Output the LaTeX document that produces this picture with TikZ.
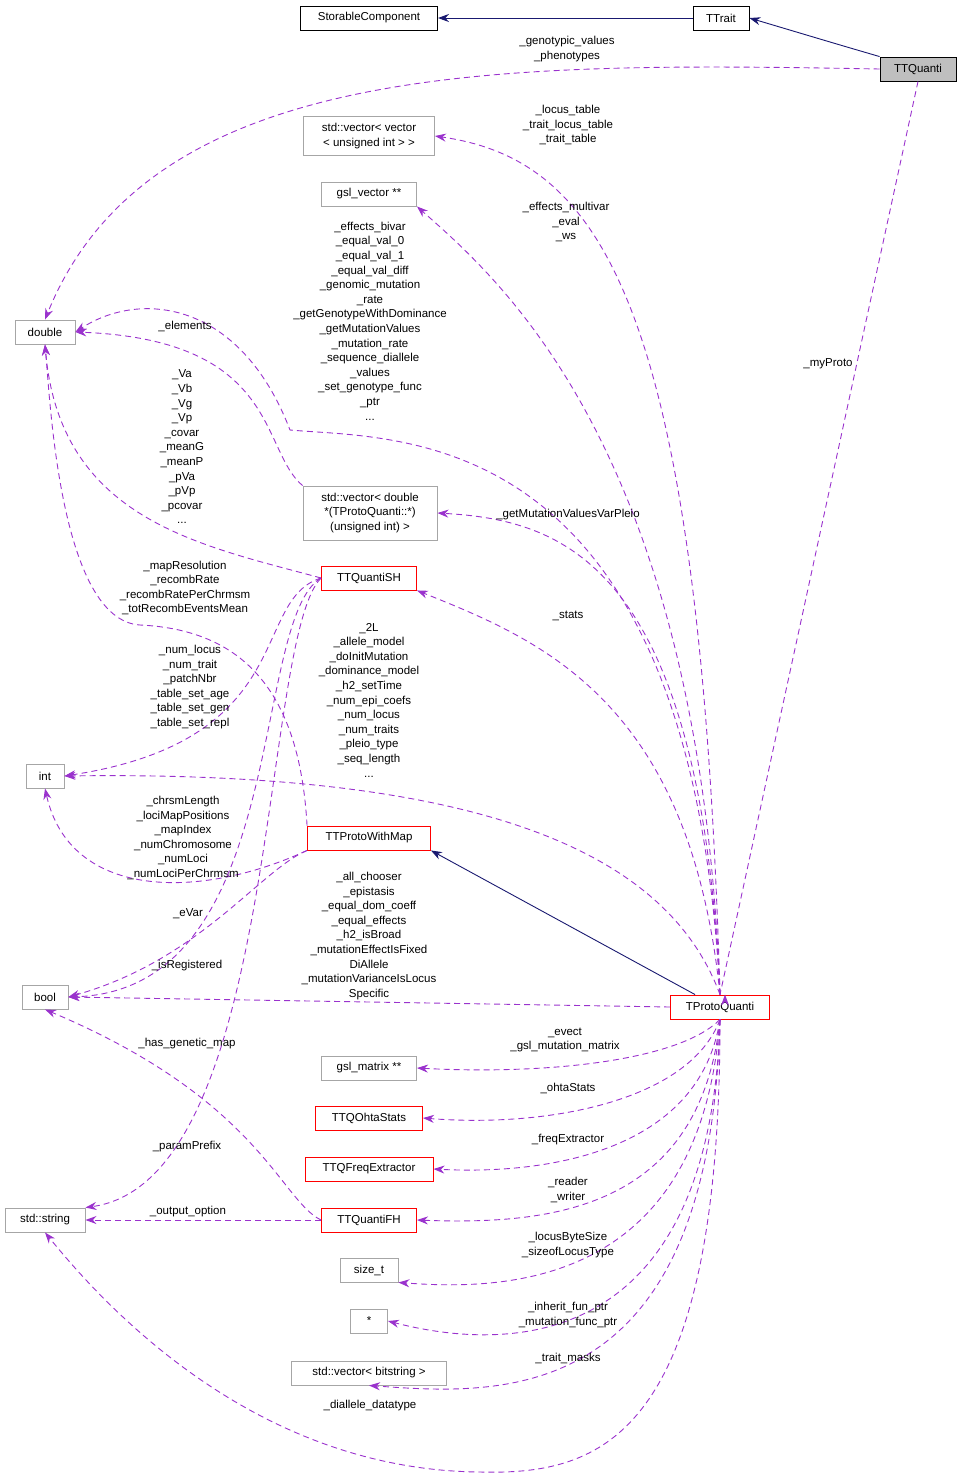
\documentclass[tikz,border=0pt]{standalone}
\usepackage{fontspec}
\setmainfont{Liberation Sans}
\usetikzlibrary{arrows.meta}
\definecolor{dep}{HTML}{9A32CD}
\definecolor{inh}{HTML}{191970}
\begin{document}
\begin{tikzpicture}[x=1pt,y=-1pt,line width=0.9pt,
 every node/.style={font=\fontsize{11.5}{14.6}\selectfont},
 box/.style={draw=black,fill=white,inner sep=0pt,minimum height=24pt,align=center,line width=0.9pt},
 gbox/.style={box,draw=gray!70},
 rbox/.style={box,draw=red},
 lab/.style={align=center,inner sep=0pt,font=\fontsize{11.5}{14.6}\selectfont},
 use/.style={dep,dash pattern=on 6pt off 4pt,-{Stealth[length=11pt,width=8pt]}},
 isa/.style={inh,-{Stealth[length=11pt,width=8pt,open,fill=inh]}}]
\useasboundingbox (0,0) rectangle (961,1478);
\node[box,minimum width=137pt] (sc) at (369,18) {StorableComponent};
\node[box,minimum width=56pt] (tt) at (721,18) {TTrait};
\node[box,minimum width=76pt,fill=gray!50] (tq) at (918,69) {TTQuanti};
\node[gbox,minimum width=131pt,minimum height=39pt] (vv) at (369,136) {std::vector\textless{} vector\\\textless{} unsigned int \textgreater{} \textgreater};
\node[gbox,minimum width=95pt] (gv) at (369,194) {gsl\_vector **};
\node[gbox,minimum width=60pt] (dbl) at (45,332) {double};
\node[gbox,minimum width=134pt,minimum height=54pt] (vd) at (370,513) {std::vector\textless{} double\\*(TProtoQuanti::*)\\(unsigned int) \textgreater};
\node[rbox,minimum width=95pt] (sh) at (369,578) {TTQuantiSH};
\node[gbox,minimum width=38pt] (int) at (45,776) {int};
\node[rbox,minimum width=123pt] (pm) at (369,838) {TTProtoWithMap};
\node[gbox,minimum width=46pt] (bool) at (45,997) {bool};
\node[rbox,minimum width=99pt] (pq) at (720,1007) {TProtoQuanti};
\node[gbox,minimum width=95pt] (gm) at (369,1068) {gsl\_matrix **};
\node[rbox,minimum width=107pt] (oh) at (369,1118) {TTQOhtaStats};
\node[rbox,minimum width=128pt] (fe) at (369,1169) {TTQFreqExtractor};
\node[gbox,minimum width=80pt] (str) at (45,1220) {std::string};
\node[rbox,minimum width=95pt] (fh) at (369,1220) {TTQuantiFH};
\node[gbox,minimum width=58pt] (st) at (369,1270) {size\_t};
\node[gbox,minimum width=37pt] (ptr) at (369,1321) {*};
\node[gbox,minimum width=155pt] (vb) at (369,1373) {std::vector\textless{} bitstring \textgreater};

\draw[isa] (tt) -- (sc);
\draw[isa] (tq.north west) .. controls (840,45) .. (tt.east);
\draw[isa] (pq.north west)++(25,0) -- (pm.south east);

\draw[use] (tq.west) .. controls (500,62) and (150,60) .. (dbl.north);
\node[lab] at (567,49) {\_genotypic\_values\\\_phenotypes};
\draw[use] (tq.south) -- (pq.north)++(5,0);
\node[lab] at (828,364) {\_myProto};
\draw[use] (pq.north) .. controls (700,300) and (600,160) .. (vv.east);
\node[lab] at (568,125) {\_locus\_table\\\_trait\_locus\_table\\\_trait\_table};
\draw[use] (pq.north) .. controls (700,450) and (500,280) .. (gv.south east);
\node[lab] at (566,222) {\_effects\_multivar\\\_eval\\\_ws};
\draw[use] (pq.north) .. controls (690,420) and (400,440) .. (290,430) .. controls (240,300) and (140,290) .. (dbl.east);
\node[lab] at (370,321) {\_effects\_bivar\\\_equal\_val\_0\\\_equal\_val\_1\\\_equal\_val\_diff\\\_genomic\_mutation\\\_rate\\\_getGenotypeWithDominance\\\_getMutationValues\\\_mutation\_rate\\\_sequence\_diallele\\\_values\\\_set\_genotype\_func\\\_ptr\\...};
\draw[use] (vd.north west) .. controls (260,450) and (280,340) .. (dbl.east);
\node[lab] at (185,326) {\_elements};
\draw[use] (pq.north) .. controls (700,560) and (560,520) .. (vd.east);
\node[lab] at (568,515) {\_getMutationValuesVarPleio};
\draw[use] (sh.west) .. controls (200,545) and (60,520) .. (dbl.south);
\node[lab] at (182,447) {\_Va\\\_Vb\\\_Vg\\\_Vp\\\_covar\\\_meanG\\\_meanP\\\_pVa\\\_pVp\\\_pcovar\\...};
\draw[use] (pq.north) .. controls (690,700) and (540,640) .. (sh.south east);
\node[lab] at (568,616) {\_stats};
\draw[use] (pm.north west) .. controls (300,700) and (250,630) .. (140,625) .. controls (60,620) and (50,400) .. (dbl.south);
\node[lab] at (185,588) {\_mapResolution\\\_recombRate\\\_recombRatePerChrmsm\\\_totRecombEventsMean};
\draw[use] (sh.west) .. controls (250,600) and (300,740) .. (int.east);
\node[lab] at (190,687) {\_num\_locus\\\_num\_trait\\\_patchNbr\\\_table\_set\_age\\\_table\_set\_gen\\\_table\_set\_repl};
\draw[use] (pq.north) .. controls (670,860) and (500,770) .. (int.east);
\node[lab] at (369,700) {\_2L\\\_allele\_model\\\_doInitMutation\\\_dominance\_model\\\_h2\_setTime\\\_num\_epi\_coefs\\\_num\_locus\\\_num\_traits\\\_pleio\_type\\\_seq\_length\\...};
\draw[use] (pm.south west) .. controls (200,900) and (70,900) .. (int.south);
\node[lab] at (183,838) {\_chrsmLength\\\_lociMapPositions\\\_mapIndex\\\_numChromosome\\\_numLoci\\\_numLociPerChrmsm};
\draw[use] (pm.south west) .. controls (260,870) and (200,960) .. (bool.east);
\node[lab] at (188,914) {\_eVar};
\draw[use] (sh.west) .. controls (250,620) and (290,990) .. (bool.east);
\node[lab] at (187,966) {\_isRegistered};
\draw[use] (pq.west) -- (bool.east);
\node[lab] at (369,936) {\_all\_chooser\\\_epistasis\\\_equal\_dom\_coeff\\\_equal\_effects\\\_h2\_isBroad\\\_mutationEffectIsFixed\\DiAllele\\\_mutationVarianceIsLocus\\Specific};
\draw[use] (fh.west) .. controls (280,1200) and (260,1100) .. (bool.south);
\node[lab] at (187,1044) {\_has\_genetic\_map};
\draw[use] (sh.west) .. controls (260,640) and (280,1180) .. (str.north east);
\node[lab] at (187,1147) {\_paramPrefix};
\draw[use] (fh.west) -- (str.east);
\node[lab] at (188,1212) {\_output\_option};
\draw[use] (pq.south) .. controls (680,1060) and (550,1075) .. (gm.east);
\node[lab] at (565,1040) {\_evect\\\_gsl\_mutation\_matrix};
\draw[use] (pq.south) .. controls (690,1100) and (550,1128) .. (oh.east);
\node[lab] at (568,1088) {\_ohtaStats};
\draw[use] (pq.south) .. controls (700,1150) and (550,1175) .. (fe.east);
\node[lab] at (568,1140) {\_freqExtractor};
\draw[use] (pq.south) .. controls (700,1210) and (550,1225) .. (fh.east);
\node[lab] at (568,1190) {\_reader\\\_writer};
\draw[use] (pq.south) .. controls (700,1290) and (500,1290) .. (st.south east);
\node[lab] at (568,1245) {\_locusByteSize\\\_sizeofLocusType};
\draw[use] (pq.south) .. controls (710,1360) and (500,1350) .. (ptr.east);
\node[lab] at (568,1315) {\_inherit\_fun\_ptr\\\_mutation\_func\_ptr};
\draw[use] (pq.south) .. controls (710,1410) and (500,1395) .. (vb.south);
\node[lab] at (568,1358) {\_trait\_masks};
\draw[use] (pq.south) .. controls (720,1440) and (600,1475) .. (480,1472) .. controls (250,1470) and (100,1300) .. (str.south);
\node[lab] at (370,1406) {\_diallele\_datatype};
\end{tikzpicture}
\end{document}
